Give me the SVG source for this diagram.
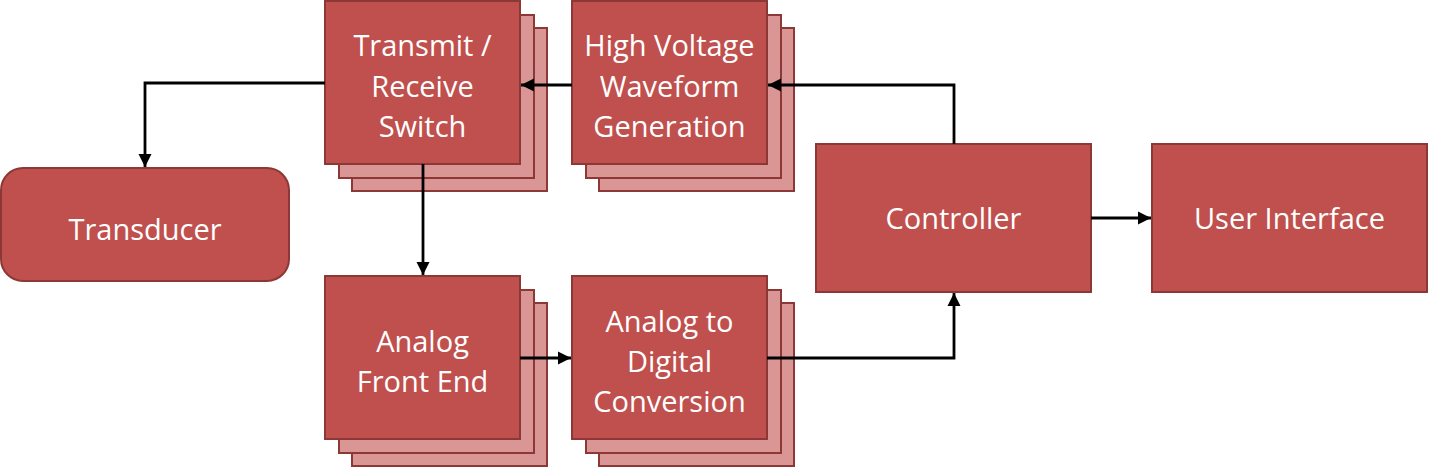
<svg xmlns="http://www.w3.org/2000/svg" width="1429" height="469" viewBox="0 0 1429 469">
<style>
.main{fill:#C0504D;stroke:#8C3836;stroke-width:2}
.back{fill:#D99694;stroke:#8C3836;stroke-width:2}
.lbl{font-family:"Open Sans","Liberation Sans",sans-serif;font-size:29px;fill:#FFFFFF;text-anchor:middle}
.conn{fill:none;stroke:#000;stroke-width:2.8}
</style>
<defs>
<marker id="arr" viewBox="0 0 10 10" refX="10" refY="5" markerWidth="4.8" markerHeight="4.8" orient="auto" markerUnits="strokeWidth">
<path d="M0,0 L10,5 L0,10 z" fill="#000"/>
</marker>
</defs>
<rect width="1429" height="469" fill="#FFFFFF"/>
<g id="transducer">
<rect class="main" x="1" y="168" width="288" height="113" rx="22" ry="22"/>
<text class="lbl" x="145" y="240">Transducer</text>
</g>
<g id="tr-switch">
<rect class="back" x="352" y="28" width="195" height="163"/>
<rect class="back" x="339" y="15" width="195" height="163"/>
<rect class="main" x="325" y="1" width="195" height="163"/>
<text class="lbl" x="422.5" y="56">Transmit /</text>
<text class="lbl" x="422.5" y="97">Receive</text>
<text class="lbl" x="422.5" y="137">Switch</text>
</g>
<g id="hv-gen">
<rect class="back" x="599" y="28" width="195" height="163"/>
<rect class="back" x="586" y="15" width="195" height="163"/>
<rect class="main" x="572" y="1" width="195" height="163"/>
<text class="lbl" x="669.5" y="56">High Voltage</text>
<text class="lbl" x="669.5" y="97">Waveform</text>
<text class="lbl" x="669.5" y="137">Generation</text>
</g>
<g id="afe">
<rect class="back" x="352" y="303" width="195" height="163"/>
<rect class="back" x="339" y="290" width="195" height="163"/>
<rect class="main" x="325" y="276" width="195" height="163"/>
<text class="lbl" x="422.5" y="352">Analog</text>
<text class="lbl" x="422.5" y="392">Front End</text>
</g>
<g id="adc">
<rect class="back" x="599" y="303" width="195" height="163"/>
<rect class="back" x="586" y="290" width="195" height="163"/>
<rect class="main" x="572" y="276" width="195" height="163"/>
<text class="lbl" x="669.5" y="332">Analog to</text>
<text class="lbl" x="669.5" y="372">Digital</text>
<text class="lbl" x="669.5" y="412">Conversion</text>
</g>
<g id="controller">
<rect class="main" x="816" y="144" width="275" height="148"/>
<text class="lbl" x="953.5" y="229">Controller</text>
</g>
<g id="user-interface">
<rect class="main" x="1152" y="144" width="275" height="148"/>
<text class="lbl" x="1289.5" y="229">User Interface</text>
</g>
<g id="connectors">
<polyline class="conn" points="325,83 145,83 145,167" marker-end="url(#arr)"/>
<polyline class="conn" points="572,85 521,85" marker-end="url(#arr)"/>
<polyline class="conn" points="954,144 954,85 768,85" marker-end="url(#arr)"/>
<polyline class="conn" points="423,164 423,275" marker-end="url(#arr)"/>
<polyline class="conn" points="520,358 571,358" marker-end="url(#arr)"/>
<polyline class="conn" points="767,358 954,358 954,293" marker-end="url(#arr)"/>
<polyline class="conn" points="1091,218 1151,218" marker-end="url(#arr)"/>
</g>
</svg>
